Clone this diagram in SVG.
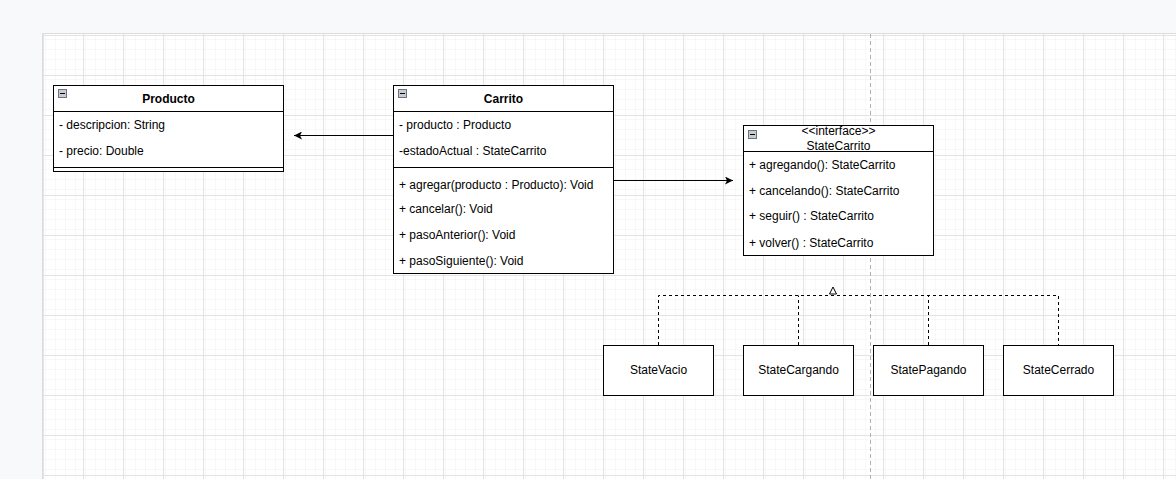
<svg xmlns="http://www.w3.org/2000/svg" width="1176" height="479" viewBox="0 0 1176 479">
  <defs>
    <pattern id="gridMinor" x="43" y="35" width="10" height="10" patternUnits="userSpaceOnUse">
      <path d="M10 0V10M0 10H10" fill="none" stroke="#f1f1f1" stroke-width="1"/>
    </pattern>
    <pattern id="gridMajor" x="43" y="35" width="40" height="40" patternUnits="userSpaceOnUse">
      <rect width="40" height="40" fill="url(#gridMinor)"/>
      <path d="M0.5 0V40M0 0.5H40" fill="none" stroke="#e3e3e3" stroke-width="1"/>
    </pattern>
    <marker id="open" viewBox="0 0 10 10" refX="10" refY="5" markerWidth="8" markerHeight="8" markerUnits="userSpaceOnUse" orient="auto">
      <path d="M0 0L10 5L0 10L2.5 5Z" fill="#000"/>
    </marker>
  </defs>
  <style>
    .box { fill: #fff; stroke: #000; stroke-width: 1; }
    .sep { stroke: #000; stroke-width: 1; }
    text { font-family: "Liberation Sans", Arial, Helvetica, sans-serif; font-size: 12px; fill: #000; }
    .title { font-weight: bold; text-anchor: middle; }
    .mid { text-anchor: middle; }
    .icon { fill: #c8ccd2; stroke: #6b7280; stroke-width: 1; }
    .dash { fill: none; stroke: #000; stroke-width: 1; stroke-dasharray: 3 3; }
    .assoc { fill: none; stroke: #000; stroke-width: 1; marker-end: url(#open); }
  </style>

  <!-- page + canvas -->
  <rect width="1176" height="479" fill="#f8f9fa"/>
  <rect x="43" y="34" width="1133" height="445" fill="#fff"/>
  <rect x="43" y="34" width="1133" height="445" fill="url(#gridMajor)"/>
  <path d="M42.5 479V33.5H1176" fill="none" stroke="#dadce0" stroke-width="1"/>
  <path d="M870.5 34V479" stroke="#b0b0b0" stroke-width="1" stroke-dasharray="4 3"/>

  <!-- Producto -->
  <g id="producto">
    <rect class="box" x="53.5" y="85.5" width="230" height="86"/>
    <line class="sep" x1="53.5" y1="111.5" x2="283.5" y2="111.5"/>
    <line class="sep" x1="53.5" y1="167.5" x2="283.5" y2="167.5"/>
    <rect class="icon" x="58.5" y="89.5" width="8" height="8"/>
    <line x1="60" y1="93.5" x2="65" y2="93.5" stroke="#000"/>
    <text class="title" x="168.5" y="103">Producto</text>
    <text x="59" y="129">- descripcion: String</text>
    <text x="59" y="155">- precio: Double</text>
  </g>

  <!-- Carrito -->
  <g id="carrito">
    <rect class="box" x="393.5" y="85.5" width="220" height="188"/>
    <line class="sep" x1="393.5" y1="111.5" x2="613.5" y2="111.5"/>
    <line class="sep" x1="393.5" y1="167.5" x2="613.5" y2="167.5"/>
    <rect class="icon" x="398.5" y="89.5" width="8" height="8"/>
    <line x1="400" y1="93.5" x2="405" y2="93.5" stroke="#000"/>
    <text class="title" x="503.5" y="103">Carrito</text>
    <text x="399" y="129">- producto : Producto</text>
    <text x="399" y="155">-estadoActual : StateCarrito</text>
    <text x="399" y="189">+ agregar(producto : Producto): Void</text>
    <text x="399" y="213">+ cancelar(): Void</text>
    <text x="399" y="239">+ pasoAnterior(): Void</text>
    <text x="399" y="265">+ pasoSiguiente(): Void</text>
  </g>

  <!-- StateCarrito interface -->
  <g id="stateCarrito">
    <rect class="box" x="743.5" y="125.5" width="190" height="130"/>
    <line class="sep" x1="743.5" y1="151.5" x2="933.5" y2="151.5"/>
    <rect class="icon" x="748.5" y="130.5" width="8" height="8"/>
    <line x1="750" y1="134.5" x2="755" y2="134.5" stroke="#000"/>
    <text class="mid" x="838.5" y="135">&lt;&lt;interface&gt;&gt;</text>
    <text class="mid" x="838.5" y="150">StateCarrito</text>
    <text x="749" y="169">+ agregando(): StateCarrito</text>
    <text x="749" y="195">+ cancelando(): StateCarrito</text>
    <text x="749" y="220">+ seguir() : StateCarrito</text>
    <text x="749" y="247">+ volver() : StateCarrito</text>
  </g>

  <!-- concrete states -->
  <g id="stateVacio">
    <rect class="box" x="603.5" y="345.5" width="110" height="50"/>
    <text class="mid" x="658.5" y="374">StateVacio</text>
  </g>
  <g id="stateCargando">
    <rect class="box" x="743.5" y="345.5" width="110" height="50"/>
    <text class="mid" x="798.5" y="374">StateCargando</text>
  </g>
  <g id="statePagando">
    <rect class="box" x="873.5" y="345.5" width="110" height="50"/>
    <text class="mid" x="928.5" y="374">StatePagando</text>
  </g>
  <g id="stateCerrado">
    <rect class="box" x="1003.5" y="345.5" width="110" height="50"/>
    <text class="mid" x="1058.5" y="374">StateCerrado</text>
  </g>

  <!-- connectors -->
  <g id="connectors">
    <path class="assoc" d="M393 135.5H294"/>
    <path class="assoc" d="M613 180.5H733"/>
    <path class="dash" d="M658.5 345V295.5H1058.5V345"/>
    <path class="dash" d="M798.5 345V295.5"/>
    <path class="dash" d="M928.5 345V295.5"/>
    <path d="M833 287L836.5 294H829.5Z" fill="#fff" stroke="#000" stroke-width="1"/>
  </g>
</svg>
